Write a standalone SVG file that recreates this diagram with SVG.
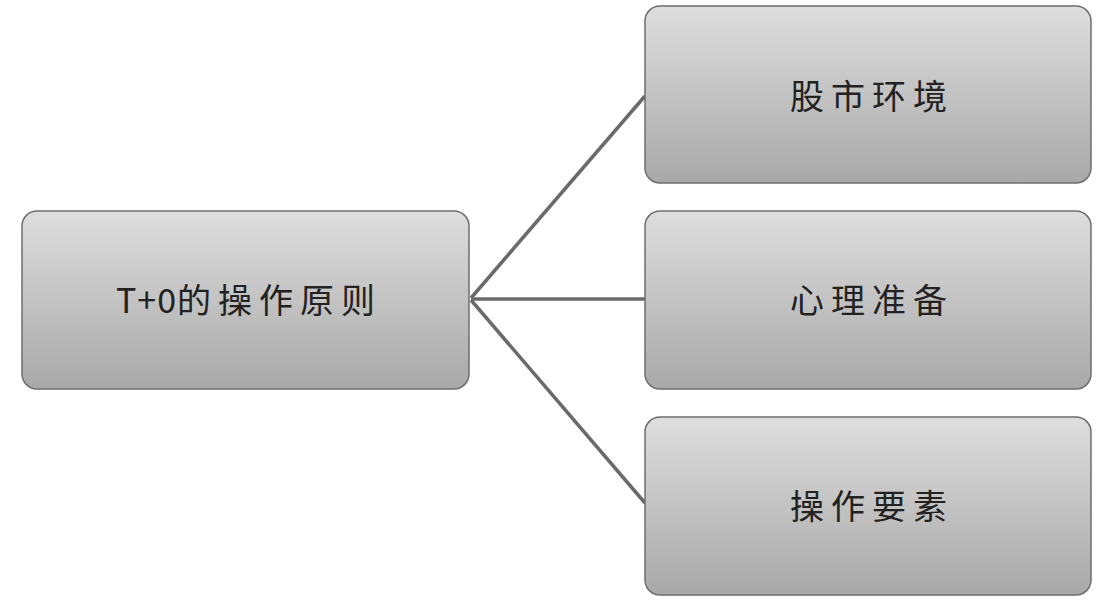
<svg xmlns="http://www.w3.org/2000/svg" width="1112" height="608" viewBox="0 0 1112 608">
<defs>
<linearGradient id="g" x1="0" y1="0" x2="0" y2="1">
<stop offset="0" stop-color="#dedede"/><stop offset="1" stop-color="#a8a8a8"/>
</linearGradient>
</defs>
<style>
.box{fill:url(#g);stroke:#6e6e6e;stroke-width:1.5}
.t{font-family:"Noto Sans CJK SC","Liberation Sans",sans-serif;font-size:34px;font-weight:400;letter-spacing:7px;fill:#222;text-anchor:middle;dominant-baseline:central}
.l{letter-spacing:1px}
.c{stroke:#6a6a6a;stroke-width:3.5;fill:none}
</style>
<rect width="1112" height="608" fill="#fff"/>
<g id="connectors">
<path class="c" d="M471 298 L645 96"/>
<path class="c" d="M471 299 L645 299"/>
<path class="c" d="M471 300 L645 503"/>
</g>
<g id="root"><rect class="box" x="22" y="211" width="447" height="178" rx="15"/><text class="t" x="249" y="298"><tspan class="l">T+0</tspan>的操作原则</text></g>
<g id="n1"><rect class="box" x="645" y="6" width="446" height="177" rx="15"/><text class="t" x="872" y="94">股市环境</text></g>
<g id="n2"><rect class="box" x="645" y="211" width="446" height="178" rx="15"/><text class="t" x="872" y="298">心理准备</text></g>
<g id="n3"><rect class="box" x="645" y="417" width="446" height="178" rx="15"/><text class="t" x="872" y="504">操作要素</text></g>
</svg>
